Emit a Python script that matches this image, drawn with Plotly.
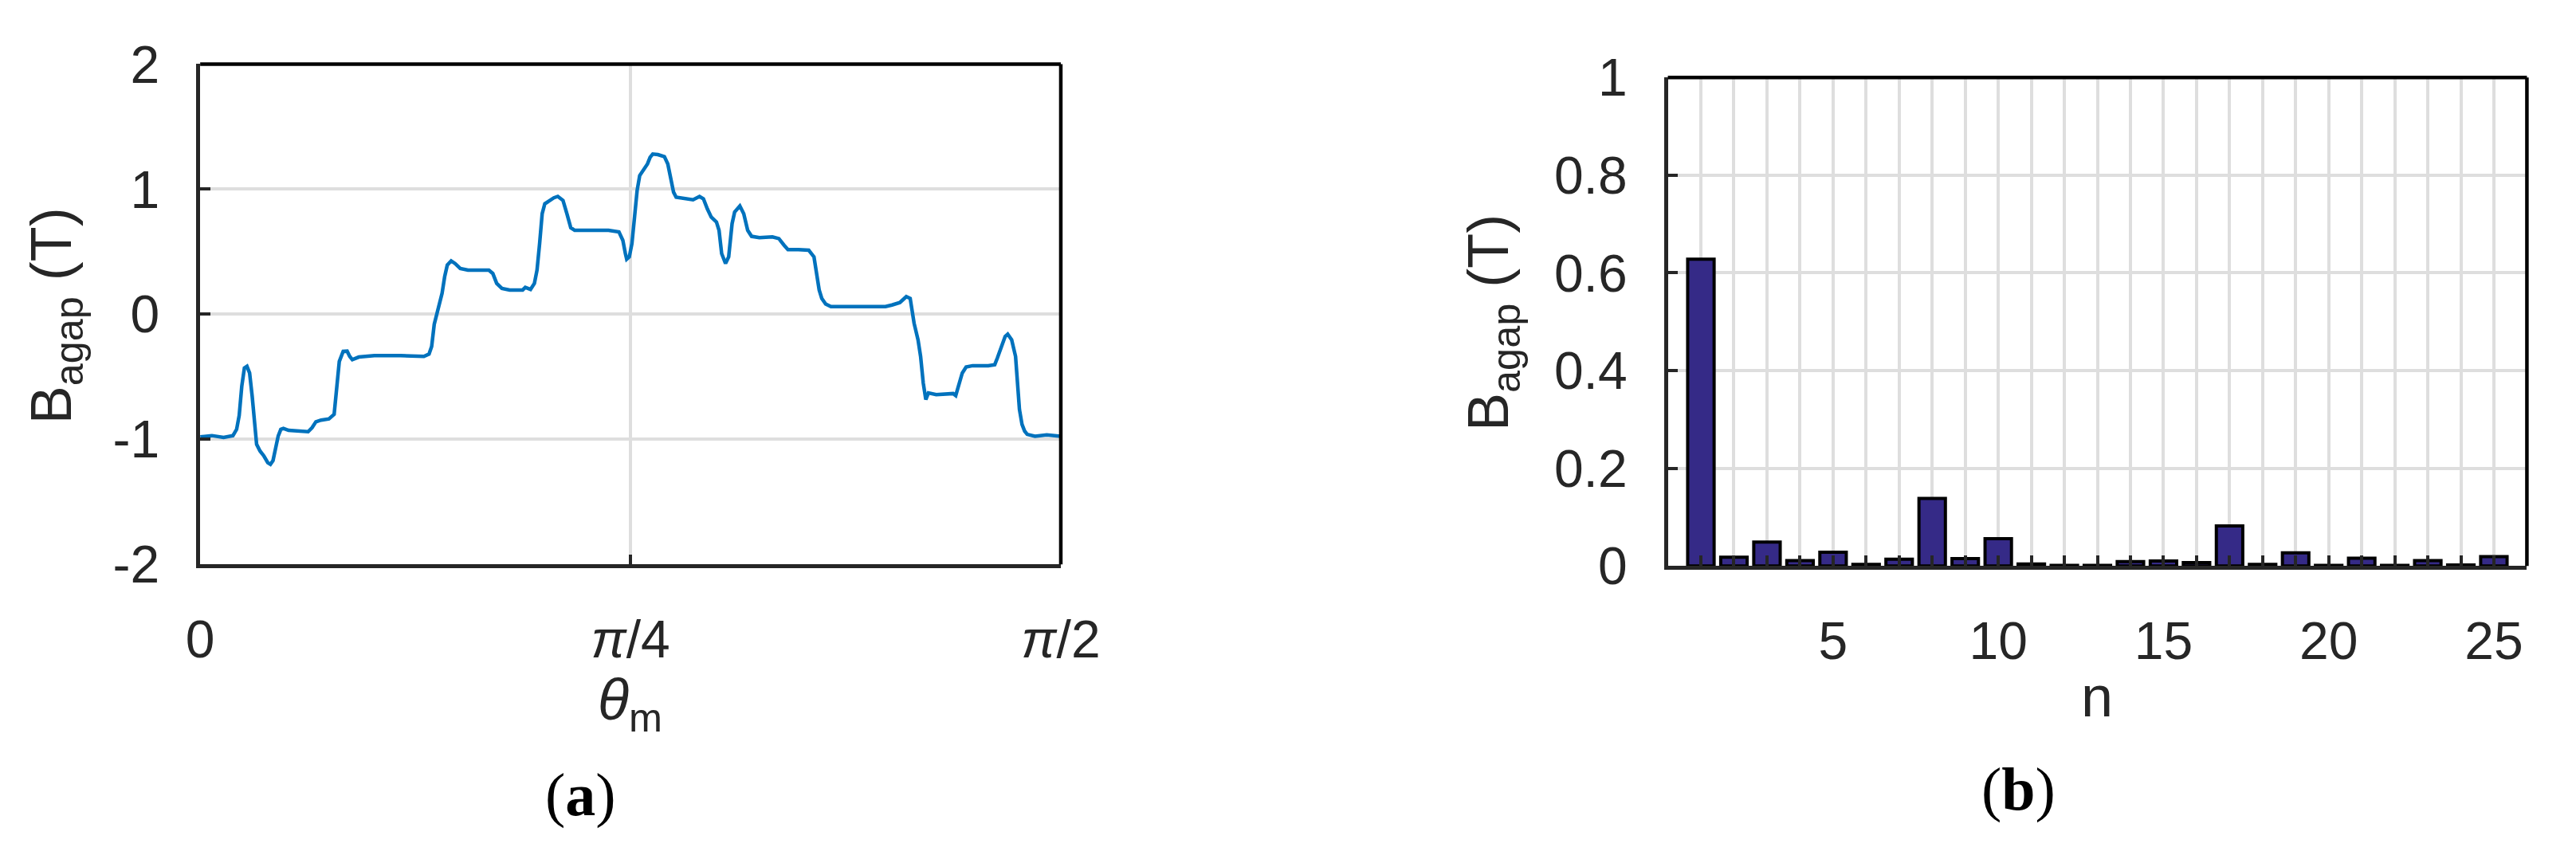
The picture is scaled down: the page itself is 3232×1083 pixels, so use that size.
import plotly.graph_objects as go
import math

# (a) air-gap flux density over one pole pitch, theta_m in rad
theta_m = [0.0, 0.0214, 0.0427, 0.0598, 0.0665, 0.0712, 0.0759, 0.0807, 0.0854, 0.0902,
           0.0949, 0.0997, 0.1030, 0.1092, 0.1163, 0.1234, 0.1282, 0.1329, 0.1377, 0.1424,
           0.1472, 0.1519, 0.1614, 0.1804, 0.1970, 0.2041, 0.2112, 0.2207, 0.2350, 0.2445,
           0.2468, 0.2492, 0.2539, 0.2610, 0.2682, 0.2729, 0.2777, 0.2895, 0.3180, 0.3656,
           0.4083, 0.4177, 0.4225, 0.4272, 0.4320, 0.4367, 0.4415, 0.4462, 0.4510, 0.4581,
           0.4652, 0.4747, 0.4889, 0.5269, 0.5341, 0.5412, 0.5507, 0.5649, 0.5886, 0.5934,
           0.6029, 0.6100, 0.6148, 0.6195, 0.6242, 0.6290, 0.6361, 0.6456, 0.6527, 0.6622,
           0.6693, 0.6764, 0.6836, 0.7263, 0.7452, 0.7643, 0.7714, 0.7761, 0.7785, 0.7832,
           0.7880, 0.7928, 0.7975, 0.8022, 0.8093, 0.8164, 0.8212, 0.8260, 0.8355, 0.8473,
           0.8535, 0.8592, 0.8640, 0.8687, 0.8830, 0.8996, 0.9114, 0.9185, 0.9256, 0.9328,
           0.9423, 0.9470, 0.9518, 0.9589, 0.9646, 0.9708, 0.9755, 0.9850, 0.9921, 0.9993,
           1.0064, 1.0207, 1.0443, 1.0562, 1.0657, 1.0728, 1.0918, 1.1108, 1.1203, 1.1250,
           1.1298, 1.1345, 1.1416, 1.1512, 1.2508, 1.2627, 1.2770, 1.2888, 1.2959, 1.3030,
           1.3102, 1.3149, 1.3197, 1.3244, 1.3292, 1.3434, 1.3624, 1.3743, 1.3790, 1.3838,
           1.3909, 1.3980, 1.4099, 1.4383, 1.4502, 1.4550, 1.4621, 1.4692, 1.4739, 1.4811,
           1.4882, 1.4929, 1.4953, 1.5000, 1.5048, 1.5095, 1.5237, 1.5451, 1.5708]
b_agap = [-0.98, -0.97, -0.985, -0.97, -0.92, -0.81, -0.576, -0.43, -0.416, -0.47,
          -0.655, -0.867, -1.04, -1.093, -1.133, -1.186, -1.2, -1.17, -1.08, -0.973,
          -0.92, -0.912, -0.928, -0.934, -0.939, -0.907, -0.86, -0.846, -0.836, -0.80,
          -0.708, -0.549, -0.377, -0.297, -0.295, -0.337, -0.363, -0.342, -0.33, -0.33,
          -0.337, -0.318, -0.257, -0.08, 0.008, 0.087, 0.167, 0.30, 0.393, 0.427,
          0.406, 0.366, 0.353, 0.353, 0.326, 0.247, 0.207, 0.194, 0.194, 0.215,
          0.199, 0.247, 0.353, 0.565, 0.804, 0.883, 0.905, 0.931, 0.942, 0.91,
          0.804, 0.692, 0.671, 0.666, 0.671, 0.658, 0.592, 0.485, 0.44, 0.459,
          0.565, 0.777, 0.99, 1.109, 1.162, 1.202, 1.255, 1.281, 1.276, 1.26,
          1.202, 1.069, 0.976, 0.936, 0.923, 0.915, 0.942, 0.923, 0.843, 0.777,
          0.737, 0.671, 0.485, 0.406, 0.459, 0.724, 0.817, 0.865, 0.804, 0.671,
          0.623, 0.613, 0.618, 0.605, 0.552, 0.517, 0.517, 0.512, 0.459, 0.33,
          0.194, 0.127, 0.082, 0.061, 0.061, 0.074, 0.093, 0.141, 0.127, -0.072,
          -0.204, -0.337, -0.549, -0.682, -0.629, -0.642, -0.634, -0.634, -0.65, -0.576,
          -0.47, -0.422, -0.411, -0.411, -0.403, -0.35, -0.257, -0.178, -0.159, -0.204,
          -0.337, -0.576, -0.761, -0.88, -0.934, -0.96, -0.975, -0.965, -0.975]

# (b) harmonic amplitudes
harmonic_n = list(range(1, 26))
harmonic_amp = [0.628, 0.018, 0.049, 0.011, 0.028, 0.003, 0.014, 0.138, 0.015, 0.056,
                0.004, 0.001, 0.001, 0.009, 0.010, 0.007, 0.082, 0.003, 0.027, 0.001,
                0.016, 0.001, 0.011, 0.002, 0.019]

theta_ticks = [0, math.pi / 4, math.pi / 2]
theta_ticktext = ['0', '<i>π</i>/4', '<i>π</i>/2']
b_ticks = [-2, -1, 0, 1, 2]
b_ticktext = ['-2', '-1', '0', '1', '2']
amp_ticks = [0, 0.2, 0.4, 0.6, 0.8, 1]
amp_ticktext = ['0', '0.2', '0.4', '0.6', '0.8', '1']
n_ticks = [5, 10, 15, 20, 25]

W, H = 3232, 1083
FONT = 'Liberation Sans, Arial, sans-serif'
AX = '#262626'
GRID = '#dedede'
fs = 66       # tick labels
fs_lab = 72   # axis labels

def px(x): return x / W
def py(y): return 1 - y / H

fig = go.Figure()
fig.add_trace(go.Scatter(x=theta_m, y=b_agap, mode='lines', line=dict(color='#0072BD', width=4.5),
                         xaxis='x', yaxis='y', showlegend=False))
fig.add_trace(go.Bar(x=harmonic_n, y=harmonic_amp, width=0.8, xaxis='x2', yaxis='y2',
                     marker=dict(color='#352A87', line=dict(color='black', width=4)), showlegend=False))

axis_common = dict(showline=True, linecolor=AX, linewidth=4.5, mirror=False, ticks='inside', ticklen=13,
                   tickwidth=4, tickcolor=AX, showgrid=True, gridcolor=GRID, gridwidth=4, zeroline=False,
                   tickfont=dict(family=FONT, size=fs, color=AX), tickmode='array')

fig.update_layout(
    width=W, height=H, margin=dict(l=0, r=0, t=0, b=0),
    paper_bgcolor='white', plot_bgcolor='white',
    xaxis=dict(domain=[px(230), px(1333)], range=[0, math.pi / 2], tickvals=theta_ticks,
               ticktext=theta_ticktext, anchor='y', ticklabelstandoff=33, **axis_common),
    yaxis=dict(domain=[py(712), py(38)], range=[-2, 2], tickvals=b_ticks, ticktext=b_ticktext,
               anchor='x', ticklabelstandoff=33, **axis_common),
    xaxis2=dict(domain=[px(2111), px(3212)], range=[0, 26], tickvals=n_ticks,
                anchor='y2', ticklabelstandoff=33,
                minor=dict(tickvals=harmonic_n, ticks='inside', ticklen=13, tickwidth=4, tickcolor=AX,
                           showgrid=True, gridcolor=GRID, gridwidth=4),
                **axis_common),
    yaxis2=dict(domain=[py(714), py(56)], range=[0, 1], tickvals=amp_ticks, ticktext=amp_ticktext,
                anchor='x2', ticklabelstandoff=33, **axis_common),
)

# top and right box edges (black, like the reference frame)
for xr, yr in [('x', 'y'), ('x2', 'y2')]:
    fig.add_shape(type='line', xref=xr + ' domain', yref=yr + ' domain', x0=0, x1=1, y0=1, y1=1,
                  line=dict(color='black', width=4.5), layer='above')
    fig.add_shape(type='line', xref=xr + ' domain', yref=yr + ' domain', x0=1, x1=1, y0=0, y1=1,
                  line=dict(color='black', width=4.5), layer='above')

ann_font = dict(family=FONT, size=fs_lab, color=AX)
fig.add_annotation(x=px(44), y=py(377), xref='paper', yref='paper', text='B<sub>agap</sub> (T)',
                   textangle=-90, showarrow=False, font=ann_font, xanchor='center', yanchor='middle')
fig.add_annotation(x=px(1886), y=py(386), xref='paper', yref='paper', text='B<sub>agap</sub> (T)',
                   textangle=-90, showarrow=False, font=ann_font, xanchor='center', yanchor='middle')
fig.add_annotation(x=px(781), y=py(900), xref='paper', yref='paper', text='<i>θ</i><sub>m</sub>',
                   showarrow=False, font=ann_font, xanchor='center', yanchor='middle')
fig.add_annotation(x=px(2661), y=py(890), xref='paper', yref='paper', text='n',
                   showarrow=False, font=ann_font, xanchor='center', yanchor='middle')
cap_font = dict(family='Liberation Serif, Times New Roman, serif', size=76, color='black')
fig.add_annotation(x=px(718), y=py(1022), xref='paper', yref='paper', text='(<b>a</b>)',
                   showarrow=False, font=cap_font, xanchor='center', yanchor='middle')
fig.add_annotation(x=px(2560), y=py(1015), xref='paper', yref='paper', text='(<b>b</b>)',
                   showarrow=False, font=cap_font, xanchor='center', yanchor='middle')

fig.write_html('out.html')
